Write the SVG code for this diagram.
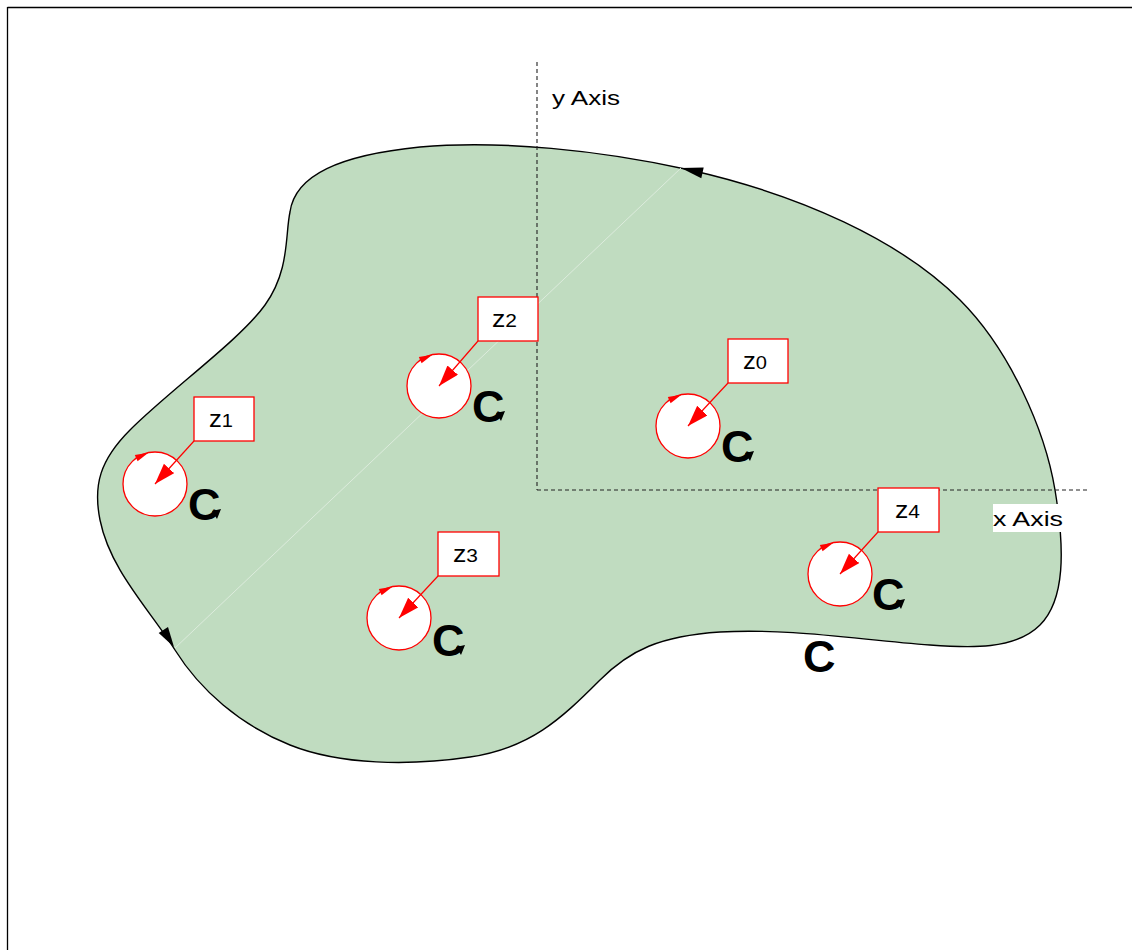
<svg xmlns="http://www.w3.org/2000/svg" width="1132" height="950" viewBox="0 0 1132 950">
<style>
.frame{stroke:#000;stroke-width:1.3;fill:none}
.region{fill:#c0dcc0;stroke:#000;stroke-width:1.4}
.axis{stroke:#222;stroke-width:1.1;stroke-dasharray:4 3;fill:none}
.axlbl{font-family:"Liberation Sans",Arial,sans-serif;font-size:20px;fill:#000}
.hole{fill:#fff;stroke:#f00;stroke-width:1.3}
.box{fill:#fff;stroke:#f00;stroke-width:1.3}
.ptr{stroke:#f00;stroke-width:1.2;fill:none}
.zl{font-family:"Liberation Sans",Arial,sans-serif;font-size:23px;fill:#000}
.cl{font-family:"Liberation Sans",Arial,sans-serif;font-size:45px;font-weight:bold;fill:#000}
.hook{fill:#000}
.tan{fill:#f00}
</style>
<defs>
<marker id="redhead" markerUnits="userSpaceOnUse" markerWidth="22" markerHeight="16" refX="21" refY="7" orient="auto">
<path d="M0,0 L21,7 L0,14 Z" fill="#f00"/>
</marker>
<path id="tanarrow" d="M-6.6,-31.3 L-17.4,-22.7 L-20.2,-29.1 Z"/>
</defs>
<line class="frame" x1="7.5" y1="7.5" x2="1132" y2="7.5"/>
<line class="frame" x1="7.5" y1="7" x2="7.5" y2="950"/>
<g id="region">
<path class="region" d="M290,212 C295,175 340,155 420,147 C500,140 600,150 690,170 C800,195 900,240 960,300 C1010,350 1045,430 1055,490 C1065,550 1065,600 1040,625 C1015,650 970,648 930,645 C860,640 790,628 720,632 C660,636 630,650 600,680 C560,720 530,748 470,757 C410,766 340,765 290,745 C240,725 200,690 175,650 C150,610 110,570 100,520 C93,485 100,460 130,430 C170,390 240,340 265,305 C290,270 285,235 290,212 Z"/>
<line x1="175" y1="648" x2="681" y2="168" stroke="#dcebdc" stroke-width="1"/>
<path d="M681,168 L703.7,167.4 L701.3,178.2 Z" fill="#000"/>
<path d="M174,647 L168,627 L158.7,633 Z" fill="#000"/>
<text class="cl" x="803" y="672">C</text>
</g>
<g id="axes">
<line class="axis" x1="537" y1="62" x2="537" y2="490"/>
<line class="axis" x1="537" y1="490" x2="1088" y2="490"/>
<text class="axlbl" x="552" y="105" textLength="68" lengthAdjust="spacingAndGlyphs">y Axis</text>
<rect x="993" y="504" width="70" height="28" fill="#fff"/>
<text class="axlbl" x="993" y="526" textLength="70" lengthAdjust="spacingAndGlyphs">x Axis</text>
</g>
<g id="z0" transform="translate(688,426)">
<circle class="hole" r="32"/>
<use href="#tanarrow" class="tan"/>
<rect class="box" x="40" y="-87" width="60" height="44"/>
<text class="zl" x="55" y="-57" textLength="24" lengthAdjust="spacingAndGlyphs">z<tspan font-size="18">0</tspan></text>
<text class="cl" x="33" y="36">C</text>
<path class="hook" d="M57,27 L66,25 L62,35 Z"/>
</g>
<g id="z1" transform="translate(155,484)">
<circle class="hole" r="32"/>
<use href="#tanarrow" class="tan"/>
<rect class="box" x="39" y="-87" width="60" height="44"/>
<text class="zl" x="54" y="-57" textLength="24" lengthAdjust="spacingAndGlyphs">z<tspan font-size="18">1</tspan></text>
<text class="cl" x="33" y="36">C</text>
<path class="hook" d="M57,27 L66,25 L62,35 Z"/>
</g>
<g id="z2" transform="translate(439,386)">
<circle class="hole" r="32"/>
<use href="#tanarrow" class="tan"/>
<rect class="box" x="39" y="-89" width="60" height="44"/>
<text class="zl" x="53" y="-59" textLength="25" lengthAdjust="spacingAndGlyphs">z<tspan font-size="18">2</tspan></text>
<text class="cl" x="33" y="36">C</text>
<path class="hook" d="M57,27 L66,25 L62,35 Z"/>
</g>
<g id="z3" transform="translate(399,618)">
<circle class="hole" r="32"/>
<use href="#tanarrow" class="tan"/>
<rect class="box" x="39" y="-86" width="61" height="44"/>
<text class="zl" x="54" y="-56" textLength="25" lengthAdjust="spacingAndGlyphs">z<tspan font-size="18">3</tspan></text>
<text class="cl" x="33" y="38">C</text>
<path class="hook" d="M57,29 L66,27 L62,37 Z"/>
</g>
<g id="z4" transform="translate(840,574)">
<circle class="hole" r="32"/>
<use href="#tanarrow" class="tan"/>
<rect class="box" x="38" y="-86" width="61" height="44"/>
<text class="zl" x="55" y="-56" textLength="25" lengthAdjust="spacingAndGlyphs">z<tspan font-size="18">4</tspan></text>
<text class="cl" x="32" y="36">C</text>
<path class="hook" d="M56,27 L65,25 L61,35 Z"/>
</g>
<g id="connectors">
<line class="ptr" x1="728" y1="383" x2="688" y2="426" marker-end="url(#redhead)"/>
<line class="ptr" x1="194" y1="441" x2="155" y2="484" marker-end="url(#redhead)"/>
<line class="ptr" x1="478" y1="341" x2="439" y2="386" marker-end="url(#redhead)"/>
<line class="ptr" x1="438" y1="576" x2="399" y2="618" marker-end="url(#redhead)"/>
<line class="ptr" x1="878" y1="532" x2="840" y2="574" marker-end="url(#redhead)"/>
</g>
</svg>
